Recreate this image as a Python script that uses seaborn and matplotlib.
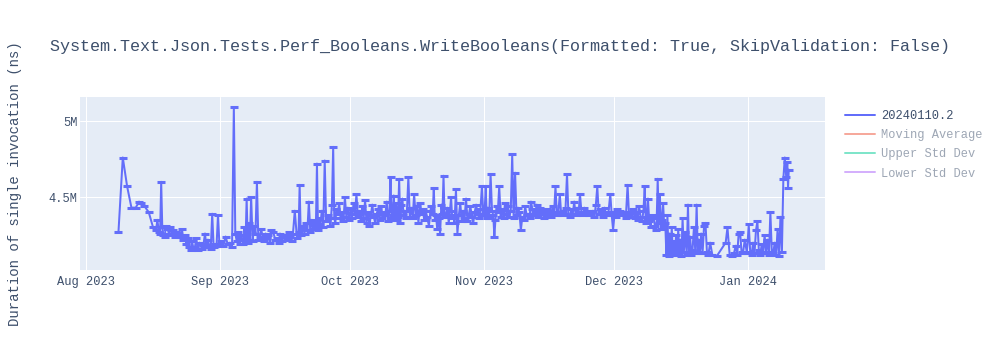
import matplotlib
matplotlib.use("Agg")
import matplotlib.pyplot as plt
import matplotlib.ticker as mticker
from matplotlib.lines import Line2D
import pandas as pd
import seaborn as sns

# ---- benchmark runs: timestamp of each run and its measured duration (ns) ----
run_times = [
    "2023-08-08T12", "2023-08-09T12", "2023-08-10T12", "2023-08-11T12", "2023-08-12T12",
    "2023-08-13T06", "2023-08-13T18", "2023-08-14T12", "2023-08-15T12", "2023-08-16T12",
    "2023-08-17T04", "2023-08-17T12", "2023-08-17T20",
    "2023-08-18T03", "2023-08-18T09", "2023-08-18T15", "2023-08-18T21",
    "2023-08-19T04", "2023-08-19T12", "2023-08-19T20",
    "2023-08-20T04", "2023-08-20T12", "2023-08-20T20",
    "2023-08-21T04", "2023-08-21T12", "2023-08-21T20",
    "2023-08-22T06", "2023-08-22T18",
    "2023-08-23T04", "2023-08-23T12", "2023-08-23T20",
    "2023-08-24T04", "2023-08-24T12", "2023-08-24T20",
    "2023-08-25T04", "2023-08-25T12", "2023-08-25T20",
    "2023-08-26T04", "2023-08-26T12", "2023-08-26T20",
    "2023-08-27T06", "2023-08-27T18",
    "2023-08-28T04", "2023-08-28T12", "2023-08-28T20",
    "2023-08-29T04", "2023-08-29T12", "2023-08-29T20",
    "2023-08-30T04", "2023-08-30T12", "2023-08-30T20",
    "2023-08-31T04", "2023-08-31T12", "2023-08-31T20",
    "2023-09-01T06", "2023-09-01T18",
    "2023-09-02T06", "2023-09-02T18",
    "2023-09-03T06", "2023-09-03T18",
    "2023-09-04T04", "2023-09-04T12", "2023-09-04T20",
    "2023-09-05T04", "2023-09-05T12", "2023-09-05T20",
    "2023-09-06T03", "2023-09-06T09", "2023-09-06T15", "2023-09-06T21",
    "2023-09-07T03", "2023-09-07T09", "2023-09-07T15", "2023-09-07T21",
    "2023-09-08T04", "2023-09-08T12", "2023-09-08T20",
    "2023-09-09T04", "2023-09-09T12", "2023-09-09T20",
    "2023-09-10T04", "2023-09-10T12", "2023-09-10T20",
    "2023-09-11T04", "2023-09-11T12", "2023-09-11T20",
    "2023-09-12T04", "2023-09-12T12", "2023-09-12T20",
    "2023-09-13T06", "2023-09-13T18",
    "2023-09-14T04", "2023-09-14T12", "2023-09-14T20",
    "2023-09-15T06", "2023-09-15T18",
    "2023-09-16T04", "2023-09-16T12", "2023-09-16T20",
    "2023-09-17T04", "2023-09-17T12", "2023-09-17T20",
    "2023-09-18T06", "2023-09-18T18",
    "2023-09-19T03", "2023-09-19T09", "2023-09-19T15", "2023-09-19T21",
    "2023-09-20T04", "2023-09-20T12", "2023-09-20T20",
    "2023-09-21T04", "2023-09-21T12", "2023-09-21T20",
    "2023-09-22T04", "2023-09-22T12", "2023-09-22T20",
    "2023-09-23T03", "2023-09-23T09", "2023-09-23T15", "2023-09-23T21",
    "2023-09-24T04", "2023-09-24T12", "2023-09-24T20",
    "2023-09-25T04", "2023-09-25T12", "2023-09-25T20",
    "2023-09-26T04", "2023-09-26T12", "2023-09-26T20",
    "2023-09-27T03", "2023-09-27T09", "2023-09-27T15", "2023-09-27T21",
    "2023-09-28T04", "2023-09-28T12", "2023-09-28T20",
    "2023-09-29T04", "2023-09-29T12", "2023-09-29T20",
    "2023-09-30T04", "2023-09-30T12", "2023-09-30T20",
    "2023-10-01T04", "2023-10-01T12", "2023-10-01T20",
    "2023-10-02T04", "2023-10-02T12", "2023-10-02T20",
    "2023-10-03T04", "2023-10-03T12", "2023-10-03T20",
    "2023-10-04T04", "2023-10-04T12", "2023-10-04T20",
    "2023-10-05T04", "2023-10-05T12", "2023-10-05T20",
    "2023-10-06T04", "2023-10-06T12", "2023-10-06T20",
    "2023-10-07T04", "2023-10-07T12", "2023-10-07T20",
    "2023-10-08T04", "2023-10-08T12", "2023-10-08T20",
    "2023-10-09T04", "2023-10-09T12", "2023-10-09T20",
    "2023-10-10T03", "2023-10-10T09", "2023-10-10T15", "2023-10-10T21",
    "2023-10-11T03", "2023-10-11T09", "2023-10-11T15", "2023-10-11T21",
    "2023-10-12T03", "2023-10-12T09", "2023-10-12T15", "2023-10-12T21",
    "2023-10-13T03", "2023-10-13T09", "2023-10-13T15", "2023-10-13T21",
    "2023-10-14T04", "2023-10-14T12", "2023-10-14T20",
    "2023-10-15T04", "2023-10-15T12", "2023-10-15T20",
    "2023-10-16T04", "2023-10-16T12", "2023-10-16T20",
    "2023-10-17T04", "2023-10-17T12", "2023-10-17T20",
    "2023-10-18T04", "2023-10-18T12", "2023-10-18T20",
    "2023-10-19T06", "2023-10-19T18",
    "2023-10-20T03", "2023-10-20T09", "2023-10-20T15", "2023-10-20T21",
    "2023-10-21T04", "2023-10-21T12", "2023-10-21T20",
    "2023-10-22T03", "2023-10-22T09", "2023-10-22T15", "2023-10-22T21",
    "2023-10-23T04", "2023-10-23T12", "2023-10-23T20",
    "2023-10-24T03", "2023-10-24T09", "2023-10-24T15", "2023-10-24T21",
    "2023-10-25T04", "2023-10-25T12", "2023-10-25T20",
    "2023-10-26T04", "2023-10-26T12", "2023-10-26T20",
    "2023-10-27T04", "2023-10-27T12", "2023-10-27T20",
    "2023-10-28T04", "2023-10-28T12", "2023-10-28T20",
    "2023-10-29T04", "2023-10-29T12", "2023-10-29T20",
    "2023-10-30T04", "2023-10-30T12", "2023-10-30T20",
    "2023-10-31T04", "2023-10-31T12", "2023-10-31T20",
    "2023-11-01T03", "2023-11-01T09", "2023-11-01T15", "2023-11-01T21",
    "2023-11-02T04", "2023-11-02T12", "2023-11-02T20",
    "2023-11-03T03", "2023-11-03T09", "2023-11-03T15", "2023-11-03T21",
    "2023-11-04T04", "2023-11-04T12", "2023-11-04T20",
    "2023-11-05T04", "2023-11-05T12", "2023-11-05T20",
    "2023-11-06T04", "2023-11-06T12", "2023-11-06T20",
    "2023-11-07T04", "2023-11-07T12", "2023-11-07T20",
    "2023-11-08T04", "2023-11-08T12", "2023-11-08T20",
    "2023-11-09T04", "2023-11-09T12", "2023-11-09T20",
    "2023-11-10T04", "2023-11-10T12", "2023-11-10T20",
    "2023-11-11T04", "2023-11-11T12", "2023-11-11T20",
    "2023-11-12T04", "2023-11-12T12", "2023-11-12T20",
    "2023-11-13T04", "2023-11-13T12", "2023-11-13T20",
    "2023-11-14T04", "2023-11-14T12", "2023-11-14T20",
    "2023-11-15T04", "2023-11-15T12", "2023-11-15T20",
    "2023-11-16T04", "2023-11-16T12", "2023-11-16T20",
    "2023-11-17T04", "2023-11-17T12", "2023-11-17T20",
    "2023-11-18T04", "2023-11-18T12", "2023-11-18T20",
    "2023-11-19T04", "2023-11-19T12", "2023-11-19T20",
    "2023-11-20T04", "2023-11-20T12", "2023-11-20T20",
    "2023-11-21T04", "2023-11-21T12", "2023-11-21T20",
    "2023-11-22T04", "2023-11-22T12", "2023-11-22T20",
    "2023-11-23T04", "2023-11-23T12", "2023-11-23T20",
    "2023-11-24T04", "2023-11-24T12", "2023-11-24T20",
    "2023-11-25T06", "2023-11-25T18",
    "2023-11-26T04", "2023-11-26T12", "2023-11-26T20",
    "2023-11-27T04", "2023-11-27T12", "2023-11-27T20",
    "2023-11-28T04", "2023-11-28T12", "2023-11-28T20",
    "2023-11-29T06", "2023-11-29T18",
    "2023-11-30T04", "2023-11-30T12", "2023-11-30T20",
    "2023-12-01T04", "2023-12-01T12", "2023-12-01T20",
    "2023-12-02T04", "2023-12-02T12", "2023-12-02T20",
    "2023-12-03T06", "2023-12-03T18",
    "2023-12-04T04", "2023-12-04T12", "2023-12-04T20",
    "2023-12-05T04", "2023-12-05T12", "2023-12-05T20",
    "2023-12-06T04", "2023-12-06T12", "2023-12-06T20",
    "2023-12-07T04", "2023-12-07T12", "2023-12-07T20",
    "2023-12-08T03", "2023-12-08T09", "2023-12-08T15", "2023-12-08T21",
    "2023-12-09T04", "2023-12-09T12", "2023-12-09T20",
    "2023-12-10T04", "2023-12-10T12", "2023-12-10T20",
    "2023-12-11T03", "2023-12-11T09", "2023-12-11T15", "2023-12-11T21",
    "2023-12-12T03", "2023-12-12T09", "2023-12-12T15", "2023-12-12T21",
    "2023-12-13T03", "2023-12-13T09", "2023-12-13T15", "2023-12-13T21",
    "2023-12-14T03", "2023-12-14T09", "2023-12-14T15", "2023-12-14T21",
    "2023-12-15T03", "2023-12-15T09", "2023-12-15T15", "2023-12-15T21",
    "2023-12-16T03", "2023-12-16T09", "2023-12-16T15", "2023-12-16T21",
    "2023-12-17T04", "2023-12-17T12", "2023-12-17T20",
    "2023-12-18T03", "2023-12-18T09", "2023-12-18T15", "2023-12-18T21",
    "2023-12-19T04", "2023-12-19T12", "2023-12-19T20",
    "2023-12-20T03", "2023-12-20T09", "2023-12-20T15", "2023-12-20T21",
    "2023-12-21T04", "2023-12-21T12", "2023-12-21T20",
    "2023-12-22T04", "2023-12-22T12", "2023-12-22T20",
    "2023-12-23T06", "2023-12-23T18",
    "2023-12-24T18",
    "2023-12-26T20",
    "2023-12-27T06", "2023-12-27T18",
    "2023-12-28T06", "2023-12-28T18",
    "2023-12-29T04", "2023-12-29T12", "2023-12-29T20",
    "2023-12-30T04", "2023-12-30T12", "2023-12-30T20",
    "2023-12-31T06", "2023-12-31T18",
    "2024-01-01T04", "2024-01-01T12", "2024-01-01T20",
    "2024-01-02T04", "2024-01-02T12", "2024-01-02T20",
    "2024-01-03T04", "2024-01-03T12", "2024-01-03T20",
    "2024-01-04T04", "2024-01-04T12", "2024-01-04T20",
    "2024-01-05T04", "2024-01-05T12", "2024-01-05T20",
    "2024-01-06T04", "2024-01-06T12", "2024-01-06T20",
    "2024-01-07T04", "2024-01-07T12", "2024-01-07T20",
    "2024-01-08T04", "2024-01-08T12", "2024-01-08T20",
    "2024-01-09T04", "2024-01-09T12", "2024-01-09T20",
    "2024-01-10T02", "2024-01-10T06", "2024-01-10T10",
]

duration_ns = [
    4.27e6, 4.76e6, 4.57e6, 4.43e6, 4.43e6,
    4.47e6, 4.46e6, 4.44e6, 4.40e6, 4.30e6,
    4.28e6, 4.35e6, 4.27e6,
    4.26e6, 4.60e6, 4.30e6, 4.25e6,
    4.24e6, 4.31e6, 4.29e6,
    4.26e6, 4.30e6, 4.25e6,
    4.28e6, 4.24e6, 4.27e6,
    4.26e6, 4.24e6,
    4.29e6, 4.22e6, 4.25e6,
    4.19e6, 4.23e6, 4.17e6,
    4.15e6, 4.21e6, 4.16e6,
    4.17e6, 4.23e6, 4.15e6,
    4.20e6, 4.16e6,
    4.19e6, 4.26e6, 4.17e6,
    4.22e6, 4.18e6, 4.16e6,
    4.39e6, 4.17e6, 4.19e6,
    4.18e6, 4.38e6, 4.19e6,
    4.21e6, 4.18e6,
    4.24e6, 4.19e6,
    4.20e6, 4.17e6,
    5.09e6, 4.26e6, 4.21e6,
    4.27e6, 4.19e6, 4.25e6,
    4.22e6, 4.19e6, 4.30e6, 4.21e6,
    4.49e6, 4.20e6, 4.33e6, 4.22e6,
    4.50e6, 4.21e6, 4.31e6,
    4.26e6, 4.60e6, 4.22e6,
    4.24e6, 4.29e6, 4.23e6,
    4.21e6, 4.26e6, 4.23e6,
    4.25e6, 4.20e6, 4.28e6,
    4.27e6, 4.22e6,
    4.23e6, 4.20e6, 4.26e6,
    4.21e6, 4.24e6,
    4.25e6, 4.22e6, 4.27e6,
    4.24e6, 4.21e6, 4.26e6,
    4.41e6, 4.23e6,
    4.27e6, 4.58e6, 4.25e6, 4.29e6,
    4.31e6, 4.26e6, 4.33e6,
    4.28e6, 4.47e6, 4.27e6,
    4.35e6, 4.29e6, 4.33e6,
    4.30e6, 4.72e6, 4.28e6, 4.36e6,
    4.32e6, 4.41e6, 4.30e6,
    4.74e6, 4.34e6, 4.38e6,
    4.36e6, 4.31e6, 4.45e6,
    4.83e6, 4.36e6, 4.33e6, 4.42e6,
    4.39e6, 4.46e6, 4.36e6,
    4.40e6, 4.34e6, 4.50e6,
    4.37e6, 4.43e6, 4.35e6,
    4.42e6, 4.36e6, 4.46e6,
    4.39e6, 4.52e6, 4.37e6,
    4.41e6, 4.34e6, 4.44e6,
    4.36e6, 4.48e6, 4.33e6,
    4.40e6, 4.31e6, 4.38e6,
    4.45e6, 4.37e6, 4.33e6,
    4.39e6, 4.42e6, 4.35e6,
    4.44e6, 4.36e6, 4.40e6,
    4.38e6, 4.47e6, 4.34e6,
    4.41e6, 4.63e6, 4.36e6, 4.38e6,
    4.51e6, 4.35e6, 4.46e6, 4.40e6,
    4.37e6, 4.62e6, 4.33e6, 4.45e6,
    4.49e6, 4.38e6, 4.41e6, 4.36e6,
    4.41e6, 4.63e6, 4.37e6,
    4.43e6, 4.36e6, 4.52e6,
    4.38e6, 4.44e6, 4.33e6,
    4.46e6, 4.39e6, 4.42e6,
    4.35e6, 4.41e6, 4.37e6,
    4.31e6, 4.44e6,
    4.39e6, 4.56e6, 4.35e6, 4.38e6,
    4.29e6, 4.36e6, 4.26e6,
    4.45e6, 4.39e6, 4.64e6, 4.37e6,
    4.37e6, 4.43e6, 4.33e6,
    4.41e6, 4.50e6, 4.36e6, 4.38e6,
    4.33e6, 4.55e6, 4.26e6,
    4.38e6, 4.46e6, 4.34e6,
    4.41e6, 4.36e6, 4.49e6,
    4.34e6, 4.39e6, 4.44e6,
    4.37e6, 4.33e6, 4.40e6,
    4.45e6, 4.39e6, 4.36e6,
    4.42e6, 4.57e6, 4.38e6,
    4.40e6, 4.57e6, 4.36e6, 4.43e6,
    4.36e6, 4.65e6, 4.41e6,
    4.38e6, 4.24e6, 4.35e6, 4.44e6,
    4.40e6, 4.57e6, 4.37e6,
    4.42e6, 4.36e6, 4.46e6,
    4.39e6, 4.44e6, 4.37e6,
    4.41e6, 4.78e6, 4.36e6,
    4.66e6, 4.38e6, 4.43e6,
    4.40e6, 4.28e6, 4.37e6,
    4.35e6, 4.44e6, 4.38e6,
    4.39e6, 4.36e6, 4.47e6,
    4.42e6, 4.38e6, 4.40e6,
    4.45e6, 4.37e6, 4.43e6,
    4.39e6, 4.41e6, 4.36e6,
    4.40e6, 4.42e6, 4.38e6,
    4.41e6, 4.37e6, 4.44e6,
    4.39e6, 4.57e6, 4.38e6,
    4.40e6, 4.52e6, 4.38e6,
    4.41e6, 4.39e6, 4.43e6,
    4.65e6, 4.38e6, 4.37e6,
    4.42e6, 4.39e6, 4.47e6,
    4.38e6, 4.43e6, 4.39e6,
    4.52e6, 4.40e6, 4.38e6,
    4.43e6, 4.39e6, 4.41e6,
    4.38e6, 4.40e6,
    4.41e6, 4.37e6, 4.45e6,
    4.57e6, 4.39e6, 4.42e6,
    4.40e6, 4.37e6, 4.43e6,
    4.38e6, 4.40e6,
    4.52e6, 4.38e6, 4.28e6,
    4.40e6, 4.37e6, 4.42e6,
    4.39e6, 4.41e6, 4.38e6,
    4.40e6, 4.36e6,
    4.58e6, 4.38e6, 4.40e6,
    4.37e6, 4.42e6, 4.36e6,
    4.40e6, 4.35e6, 4.44e6,
    4.37e6, 4.34e6, 4.41e6,
    4.57e6, 4.33e6, 4.36e6, 4.49e6,
    4.34e6, 4.30e6, 4.38e6,
    4.36e6, 4.31e6, 4.28e6,
    4.62e6, 4.33e6, 4.52e6, 4.29e6,
    4.35e6, 4.46e6, 4.31e6, 4.33e6,
    4.12e6, 4.38e6, 4.11e6, 4.26e6,
    4.13e6, 4.30e6, 4.12e6, 4.21e6,
    4.14e6, 4.25e6, 4.12e6, 4.29e6,
    4.13e6, 4.22e6, 4.11e6, 4.36e6,
    4.14e6, 4.27e6, 4.12e6,
    4.45e6, 4.13e6, 4.24e6, 4.12e6,
    4.15e6, 4.30e6, 4.13e6,
    4.45e6, 4.14e6, 4.22e6, 4.13e6,
    4.26e6, 4.13e6, 4.31e6,
    4.33e6, 4.14e6, 4.12e6,
    4.20e6, 4.12e6,
    4.11e6,
    4.20e6,
    4.30e6, 4.12e6,
    4.11e6, 4.13e6,
    4.18e6, 4.12e6, 4.26e6,
    4.27e6, 4.14e6, 4.13e6,
    4.22e6, 4.13e6,
    4.32e6, 4.14e6, 4.12e6,
    4.20e6, 4.13e6, 4.28e6,
    4.34e6, 4.15e6, 4.12e6,
    4.19e6, 4.13e6, 4.25e6,
    4.14e6, 4.22e6, 4.12e6,
    4.40e6, 4.14e6, 4.13e6,
    4.20e6, 4.12e6, 4.29e6,
    4.11e6, 4.37e6, 4.14e6,
    4.62e6, 4.76e6, 4.63e6,
    4.73e6, 4.56e6, 4.68e6,
]

series_names = ["20240110.2", "Moving Average", "Upper Std Dev", "Lower Std Dev"]
series_colors = ["#636EFA", "#EF553B", "#00CC96", "#AB63FA"]
y_ticks = [4.5e6, 5.0e6]
x_ticks = ["2023-08-01", "2023-09-01", "2023-10-01", "2023-11-01", "2023-12-01", "2024-01-01"]
x_range = ["2023-07-30T14:40", "2024-01-18T19:00"]
y_range = [4.02e6, 5.158e6]
chart_title = "System.Text.Json.Tests.Perf_Booleans.WriteBooleans(Formatted: True, SkipValidation: False)"
y_title = "Duration of single invocation (ns)"

TEXT = "#3d4f6b"
PX = 0.72  # points per pixel at 100 dpi

sns.set_theme(style="darkgrid")
plt.rcParams["font.family"] = ["Liberation Mono", "DejaVu Sans Mono"]

runs = pd.DataFrame({
    "time": pd.to_datetime(run_times, format="%Y-%m-%dT%H"),
    "duration": duration_ns,
})

fig = plt.figure(figsize=(10, 3.5), dpi=100)
fig.patch.set_facecolor("white")
ax = fig.add_axes([0.080, 1 - 270 / 350, 0.745, 173 / 350])
ax.set_facecolor("#E5ECF6")

sns.lineplot(
    data=runs, x="time", y="duration", ax=ax,
    sort=False, estimator=None, legend=False,
    color=series_colors[0], linewidth=2 * PX,
    marker="_", markersize=6, markeredgewidth=2.2,
    markeredgecolor=series_colors[0],
)

ax.set_xlim(pd.to_datetime(x_range))
ax.set_ylim(y_range)
ax.set_xticks(pd.to_datetime(x_ticks))
ax.set_xticklabels([pd.Timestamp(t).strftime("%b %Y") for t in x_ticks])
ax.set_yticks(y_ticks)
ax.yaxis.set_major_formatter(mticker.FuncFormatter(lambda v, _: f"{v / 1e6:g}M"))

ax.grid(True, color="white", linewidth=1 * PX)
ax.set_axisbelow(True)
for s in ax.spines.values():
    s.set_visible(False)
ax.tick_params(axis="both", length=0, labelsize=12 * PX, labelcolor=TEXT)
ax.tick_params(axis="x", pad=4)
ax.tick_params(axis="y", pad=1.5)

ax.set_xlabel("")
ax.set_ylabel(y_title, fontsize=14 * PX, color=TEXT)
ax.yaxis.set_label_coords(-0.078, 0.5)

fig.text(0.05, 1 - 46 / 350, chart_title, fontsize=16.8 * PX, color=TEXT,
         ha="left", va="center")

handles = [Line2D([], [], color=series_colors[0], linewidth=2 * PX)]
for c in series_colors[1:]:
    handles.append(Line2D([], [], color=c, linewidth=2 * PX, alpha=0.5))
leg = fig.legend(
    handles, series_names, loc="upper left",
    bbox_to_anchor=(0.845, 1 - 110 / 350), frameon=False,
    fontsize=12 * PX, handlelength=2.5, handletextpad=0.5,
    labelspacing=0.6, borderpad=0, borderaxespad=0,
)
for i, t in enumerate(leg.get_texts()):
    t.set_color(TEXT)
    if i > 0:
        t.set_alpha(0.5)

fig.savefig("out.png", dpi=100)
